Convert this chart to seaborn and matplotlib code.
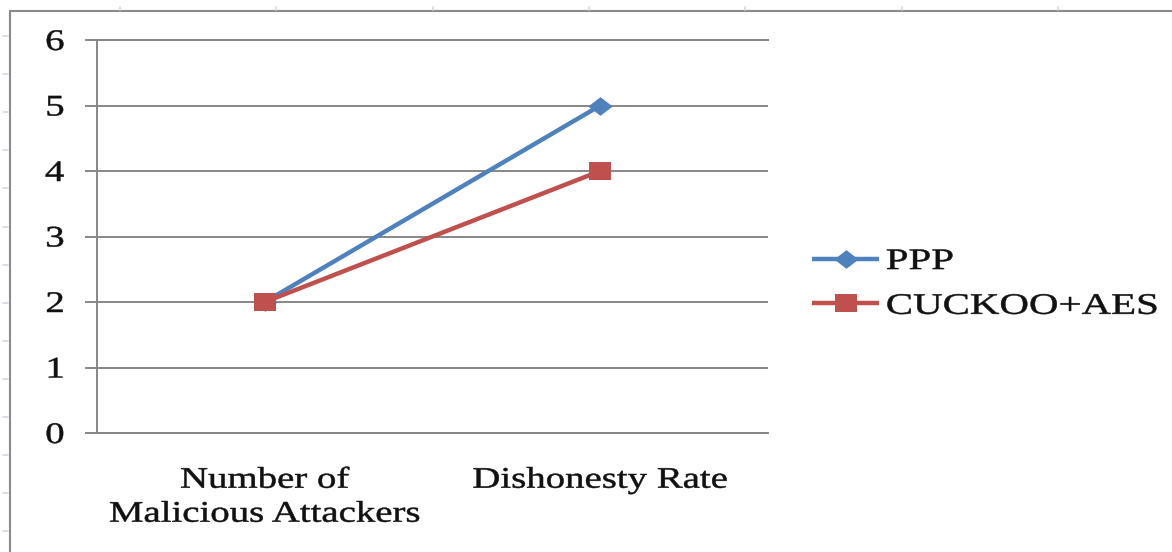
import numpy as np
import pandas as pd
import matplotlib
matplotlib.use("Agg")
import matplotlib.pyplot as plt
import seaborn as sns
from matplotlib.lines import Line2D
from matplotlib.path import Path
from matplotlib.patheffects import AbstractPathEffect
from matplotlib.transforms import Affine2D

# ---- data -------------------------------------------------------------
categories = ["Number of\nMalicious Attackers", "Dishonesty Rate"]
series_names = ["PPP", "CUCKOO+AES"]
ppp_values = [2, 5]
cuckoo_aes_values = [2, 4]
y_ticks = [0, 1, 2, 3, 4, 5, 6]

# ---- style ------------------------------------------------------------
sns.set_style("white")
plt.rcParams["font.family"] = ["Liberation Serif", "DejaVu Serif"]

W, H = 1172, 552
GRID = "#878787"
TEXT = "#111111"
FS = 21.5
colors = {"PPP": "#4F81BD", "CUCKOO+AES": "#C0504D"}


class WideText(AbstractPathEffect):
    """Draw text glyphs horizontally widened (anchored left/center/right),
    with a thin outline in the fill colour for a heavier look."""

    def __init__(self, sx=1.3, align="center", stroke=0.35):
        super().__init__()
        self.sx = sx
        self.align = align
        self.stroke = stroke

    def draw_path(self, renderer, gc, tpath, affine, rgbFace=None):
        ext = tpath.get_extents()
        if self.align == "left":
            c = 0.0
        elif self.align == "right":
            c = ext.x1
        else:
            c = 0.5 * (ext.x0 + ext.x1)
        widen = Affine2D().scale(self.sx, 1.0).translate(-(self.sx - 1.0) * c, 0.0)
        gc0 = renderer.new_gc()
        gc0.copy_properties(gc)
        if rgbFace is not None:
            gc0.set_foreground(rgbFace)
        gc0.set_linewidth(self.stroke)
        gc0.set_joinstyle("round")
        renderer.draw_path(gc0, tpath, widen + affine, rgbFace)
        gc0.restore()


# long-form table for seaborn
x_pos = np.arange(len(categories))
df = pd.DataFrame({
    "x": np.concatenate([x_pos, x_pos]),
    "value": ppp_values + cuckoo_aes_values,
    "series": [series_names[0]] * len(categories) + [series_names[1]] * len(categories),
})

fig = plt.figure(figsize=(W / 100, H / 100), dpi=100)
fig.patch.set_facecolor("white")
ax = fig.add_axes([97 / W, 1 - 433 / H, (768 - 97) / W, (433 - 40) / H])

sns.lineplot(data=df, x="x", y="value", hue="series", hue_order=series_names,
             palette=colors, linewidth=3.2, sort=False, errorbar=None,
             legend=False, ax=ax, zorder=3)

# wide diamond and wide square markers
diamond = Path([(0, -1), (1.3, 0), (0, 1), (-1.3, 0), (0, -1)],
               [Path.MOVETO, Path.LINETO, Path.LINETO, Path.LINETO, Path.CLOSEPOLY])
square = Path([(-1.3, -1), (1.3, -1), (1.3, 1), (-1.3, 1), (-1.3, -1)],
              [Path.MOVETO, Path.LINETO, Path.LINETO, Path.LINETO, Path.CLOSEPOLY])
lines = ax.lines[:2]
for ln, mk, ms in zip(lines, [diamond, square], [17.5, 16.5]):
    ln.set_marker(mk)
    ln.set_markersize(ms)
    ln.set_markeredgewidth(0)
    ln.set_markerfacecolor(ln.get_color())
    ln.set_solid_capstyle("butt")

# axes
ax.set_xlim(-0.5, len(categories) - 0.5)
ax.set_ylim(0, 6)
ax.set_xticks(x_pos)
ax.set_xticklabels(categories, fontsize=FS, color=TEXT, linespacing=1.4)
ax.set_xticks(np.arange(len(categories) + 1) - 0.5, minor=True)
ax.set_yticks(y_ticks)
ax.set_yticklabels([str(v) for v in y_ticks], fontsize=FS, color=TEXT)
ax.set_xlabel("")
ax.set_ylabel("")

ax.tick_params(axis="x", which="major", length=0, pad=25)
ax.tick_params(axis="x", which="minor", length=6, width=1.4, color=GRID, direction="out")
ax.tick_params(axis="y", which="major", length=8.6, width=1.4, color=GRID,
               direction="out", pad=15, left=True)

ax.yaxis.grid(True, color=GRID, linewidth=1.4)
ax.xaxis.grid(False)
for side in ["left", "bottom", "top"]:
    ax.spines[side].set_visible(True)
    ax.spines[side].set_color(GRID)
    ax.spines[side].set_linewidth(1.4)
ax.spines["right"].set_visible(False)
ax.set_axisbelow(True)

for t in ax.get_xticklabels():
    t.set_path_effects([WideText(1.3, "center")])
for t in ax.get_yticklabels():
    t.set_path_effects([WideText(1.3, "right")])

leg = ax.legend(handles=lines, labels=series_names, loc="center left",
                bbox_to_anchor=(812 / W, 1 - 284 / H), bbox_transform=fig.transFigure,
                frameon=False, handlelength=2.25, handletextpad=0.22,
                labelspacing=0.6, borderpad=0, borderaxespad=0,
                prop={"family": ["Liberation Serif"], "size": FS})
for t in leg.get_texts():
    t.set_color(TEXT)
    t.set_path_effects([WideText(1.37, "left")])

# surrounding frame with faint ruler marks
fx = lambda px: px / W
fy = lambda py: 1 - py / H
fig.add_artist(Line2D([fx(10), fx(W)], [fy(11), fy(11)], color="#8a8a8a", lw=1.5,
                      transform=fig.transFigure))
fig.add_artist(Line2D([fx(10), fx(10)], [fy(11), fy(H)], color="#8a8a8a", lw=1.5,
                      transform=fig.transFigure))
for px in np.arange(120, W, 156.3):
    fig.add_artist(Line2D([fx(px), fx(px)], [fy(7), fy(10)], color="#d3d9e8", lw=1.2,
                          transform=fig.transFigure))
for py in np.arange(36, H, 38.1):
    fig.add_artist(Line2D([fx(3), fx(8)], [fy(py), fy(py)], color="#d3d9e8", lw=1.2,
                          transform=fig.transFigure))

fig.savefig("out.png", dpi=100, facecolor="white")
